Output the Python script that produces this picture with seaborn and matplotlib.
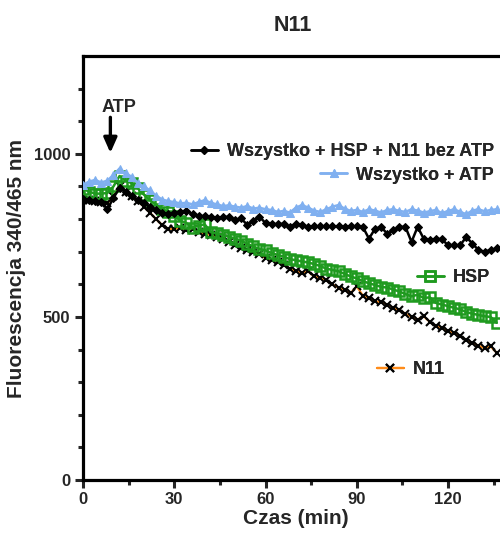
import numpy as np
import pandas as pd
import matplotlib
matplotlib.use("Agg")
import matplotlib.pyplot as plt
import seaborn as sns

# time in minutes (one read every 2 min)
czas = list(range(0, 138, 2))

atp = [905, 915, 920, 912, 918, 935, 955, 940, 930, 910, 900, 888, 872, 860, 855, 852,
       848, 850, 845, 852, 858, 850, 845, 840, 842, 838, 835, 840, 832, 835, 830, 828,
       822, 825, 820, 835, 843, 835, 826, 822, 830, 838, 843, 832, 825, 828, 822, 830,
       826, 820, 828, 830, 825, 822, 830, 826, 820, 824, 828, 818, 825, 830, 822, 815,
       826, 830, 824, 828, 830]

bez_atp = [862, 860, 856, 852, 830, 865, 895, 882, 870, 860, 850, 838, 828, 820, 815, 818,
           822, 826, 815, 808, 810, 806, 804, 806, 807, 797, 802, 782, 795, 807, 788, 786,
           784, 786, 776, 786, 782, 776, 778, 778, 778, 778, 778, 776, 778, 778, 776, 740,
           770, 776, 755, 765, 776, 776, 730, 776, 740, 735, 740, 738, 720, 720, 720, 745,
           725, 705, 700, 705, 710]

hsp = [893, 884, 878, 878, 880, 900, 932, 918, 910, 895, 875, 858, 845, 832, 822, 810,
       795, 788, 774, 780, 784, 760, 756, 752, 746, 740, 734, 724, 716, 708, 704, 696,
       690, 685, 677, 674, 670, 667, 662, 656, 648, 644, 640, 632, 624, 618, 610, 603,
       598, 592, 590, 584, 578, 570, 563, 568, 558, 560, 543, 538, 533, 528, 523, 515,
       510, 506, 502, 500, 482]

n11 = [860, 858, 855, 852, 848, 870, 900, 884, 870, 856, 838, 820, 800, 782, 770, 770,
       772, 768, 770, 760, 755, 752, 745, 738, 731, 722, 712, 705, 698, 692, 680, 676,
       668, 660, 648, 640, 634, 640, 624, 620, 612, 600, 590, 582, 573, 594, 565, 558,
       548, 545, 538, 528, 520, 510, 500, 492, 502, 485, 472, 466, 457, 450, 442, 428,
       420, 412, 404, 410, 390]

labels = ["Wszystko + HSP + N11 bez ATP", "Wszystko + ATP", "HSP", "N11"]

df = pd.DataFrame({"czas": czas, "atp": atp, "bez_atp": bez_atp, "hsp": hsp, "n11": n11})

sns.set_style("ticks")
plt.rcParams["font.family"] = ["Liberation Sans", "DejaVu Sans"]
plt.rcParams["font.weight"] = "bold"

fig = plt.figure(figsize=(5.0, 5.36), dpi=100)
ax = fig.add_axes([0.166, 0.1045, 0.8517, 0.791])

sns.lineplot(data=df, x="czas", y="n11", ax=ax, color="#ff8c1a", lw=1.6,
             marker="x", markersize=6, markeredgecolor="black", markeredgewidth=1.5,
             zorder=2)
sns.lineplot(data=df, x="czas", y="hsp", ax=ax, color="#1f9a1f", lw=1.8,
             marker="s", markersize=6.5, markerfacecolor="none", markeredgecolor="#1f9a1f",
             markeredgewidth=1.8, zorder=3)
sns.lineplot(data=df, x="czas", y="bez_atp", ax=ax, color="black", lw=1.8,
             marker="D", markersize=4.2, markeredgecolor="black", zorder=4)
sns.lineplot(data=df, x="czas", y="atp", ax=ax, color="#80b0f0", lw=1.8,
             marker="^", markersize=6, markeredgecolor="#80b0f0", zorder=5)

lines = ax.get_lines()
line_map = {"N11": lines[0], "HSP": lines[1],
            "Wszystko + HSP + N11 bez ATP": lines[2], "Wszystko + ATP": lines[3]}

ax.set_xlim(0, 140)
ax.set_ylim(0, 1300)
ax.set_xticks([0, 30, 60, 90, 120])
ax.set_xticks(np.arange(15, 140, 30), minor=True)
ax.set_yticks([0, 500, 1000])
ax.set_yticks(np.arange(100, 1300, 100), minor=True)
ax.tick_params(axis="both", which="major", length=6, width=2.2, labelsize=12, pad=3)
ax.tick_params(axis="both", which="minor", length=3.5, width=2.2)
for lab in ax.get_xticklabels() + ax.get_yticklabels():
    lab.set_fontweight("bold")
for side in ["left", "bottom", "top", "right"]:
    ax.spines[side].set_linewidth(2.3)
    ax.spines[side].set_color("black")

ax.set_xlabel("Czas (min)", fontsize=15, fontweight="bold", labelpad=1)
ax.set_ylabel("Fluorescencja 340/465 nm", fontsize=15, fontweight="bold", labelpad=6)
fig.text(0.586, 0.953, "N11", ha="center", va="center", fontsize=15.5, fontweight="bold")

# ATP addition marker
ax.text(11.8, 1142, "ATP", ha="center", va="center", fontsize=13, fontweight="bold")
ax.annotate("", xy=(9, 1003), xytext=(9, 1112),
            arrowprops=dict(arrowstyle="-|>,head_length=0.9,head_width=0.4",
                            color="black", lw=2.4, shrinkA=0, shrinkB=0))

# legend entries placed next to their curves
legend_pos = {
    "Wszystko + HSP + N11 bez ATP": (494, 152),
    "Wszystko + ATP": (494, 175),
    "HSP": (490, 278),
    "N11": (445, 370),
}
for name in labels:
    xr, yr = legend_pos[name]
    leg = fig.legend([line_map[name]], [name], loc="center right",
                     bbox_to_anchor=(xr / 500, 1 - yr / 536),
                     frameon=False, handlelength=1.5, handletextpad=0.5,
                     borderpad=0, borderaxespad=0, prop={"weight": "bold", "size": 13})
    fig.add_artist(leg)

fig.savefig("out.png", dpi=100)
